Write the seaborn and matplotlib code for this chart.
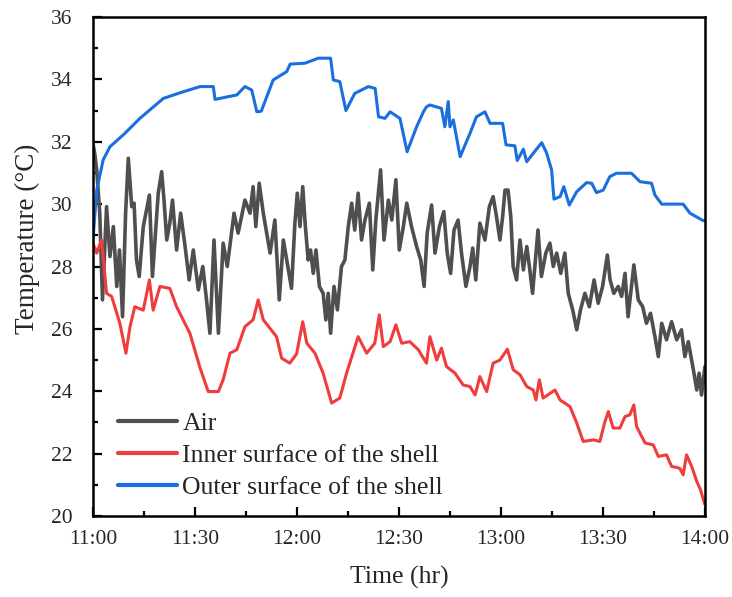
import matplotlib
matplotlib.use("Agg")
import matplotlib.pyplot as plt
from matplotlib.ticker import MultipleLocator, FixedLocator
import seaborn as sns

# Minutes after 11:00 and temperature (°C) for each sensor
air_t = [0, 0.5, 1.1, 2, 2.8, 4, 5, 6, 7, 7.8, 8.7, 9.6, 10.4, 11.4, 12.1, 12.8, 13.6,
         14.8, 16.6, 17.5, 18.5, 19.2, 20.2, 20.9, 21.7, 22.6, 23.4, 24.6, 25.8, 27.1,
         28.3, 29.5, 31, 32.3, 33.4, 34.4, 35.6, 36.9, 38.3, 39.5, 41.5, 42.7, 44.7,
         46.2, 47.1, 47.9, 48.9, 50.1, 52.1, 53.5, 54.8, 56, 57, 58.4, 59.4, 60.1,
         60.9, 61.7, 62.4, 63.3, 64, 64.8, 65.6, 66.6, 67.7, 68.5, 69.2, 69.9, 70.9,
         71.9, 73.1, 74.1, 75.1, 76.1, 77, 78, 79, 80, 81.3, 82.3, 83.2, 84.6, 85.6,
         86.9, 87.9, 89.1, 90.1, 91.3, 92.3, 93.7, 95.2, 96.4, 97.4, 98.3, 99.6,
         100.6, 101.9, 103.2, 104.2, 105.2, 106.2, 107.4, 108.4, 109.7, 110.9, 111.7,
         112.6, 113.8, 115.3, 116.6, 117.7, 118.7, 119.7, 120.5, 121.2, 122.1, 122.9,
         123.6, 124.6, 125.6, 126.6, 127.6, 128.5, 129.3, 130.3, 130.9, 131.9, 133.2,
         134.4, 135.4, 136.4, 137.6, 138.8, 139.8, 141.1, 142.3, 143.4, 144.7, 146,
         147.4, 148.6, 149.9, 151.3, 152.1, 153.2, 154.5, 155.5, 156.5, 157.4, 159.1,
         160.4, 161.7, 162.8, 164, 165.3, 166.3, 167.3, 168.7, 170.2, 171.7, 173.1,
         174.1, 175.1, 176.6, 177.6, 178.3, 179, 180]
air_v = [31.95, 31.63, 31.1, 29.71, 26.93, 29.92, 28.32, 29.28, 27.36, 28.53, 26.39,
         29.71, 31.47, 29.92, 30.03, 28.21, 27.68, 29.28, 30.29, 27.68, 29.28, 30.35,
         31.04, 30.13, 28.85, 29.39, 30.13, 28.53, 29.71, 28.64, 27.57, 28.53, 27.25,
         28.0, 26.93, 25.86, 28.85, 25.86, 28.75, 28.0, 29.71, 29.07, 30.13, 29.71,
         30.56, 29.28, 30.67, 29.71, 28.43, 29.49, 26.93, 28.85, 28.21, 27.3, 29.4,
         30.35, 29.28, 30.56, 29.39, 28.21, 28.53, 27.78, 28.53, 27.36, 27.14, 26.29,
         27.14, 25.86, 27.36, 26.61, 28.0, 28.21, 29.28, 30.03, 29.17, 30.35, 28.85,
         29.49, 30.03, 27.89, 29.49, 31.1, 28.85, 30.13, 29.49, 30.78, 28.53, 29.28,
         30.03, 29.28, 28.64, 28.21, 27.36, 29.07, 29.97, 28.43, 29.28, 29.76, 28.43,
         27.78, 29.17, 29.49, 28.43, 27.36, 28.0, 28.59, 27.57, 29.39, 28.85, 29.92,
         30.24, 29.6, 28.85, 29.6, 30.45, 30.45, 29.6, 28.0, 27.57, 28.85, 27.89,
         28.64, 27.89, 27.14, 28.43, 29.17, 27.68, 28.43, 28.75, 28.0, 28.43, 27.78,
         28.43, 27.14, 26.61, 25.97, 26.61, 27.14, 26.71, 27.57, 26.82, 27.36, 28.37,
         27.57, 27.14, 27.36, 27.04, 27.78, 26.39, 28.05, 26.93, 26.71, 26.18, 26.5,
         25.75, 25.11, 26.18, 25.65, 26.23, 25.65, 25.97, 25.11, 25.59, 24.69, 24.04,
         24.58, 23.88, 24.79]

inner_t = [0, 1.1, 2.5, 4, 5.5, 7.9, 9.7, 10.9, 12.3, 14.8, 16.6, 17.7, 19.7, 22.6,
           24.6, 28.5, 31.5, 33.9, 36.9, 38.3, 40.3, 42.3, 44.7, 47.1, 48.6, 50.1, 54,
           55.5, 57.9, 59.9, 61.7, 62.9, 65.3, 67.7, 70.2, 72.6, 74.6, 78, 80.5, 82.9,
           84.2, 85.4, 87.4, 89.1, 90.8, 93.2, 95.7, 98.1, 99.1, 101.1, 102.5, 104,
           106.5, 108.9, 110.9, 112.4, 113.8, 115.8, 117.7, 119.7, 121.9, 123.6, 125.6,
           127.6, 129.5, 130.3, 131.3, 132.4, 135.9, 137.4, 140.3, 142.3, 144.2, 147.2,
           149.1, 150.6, 151.6, 153, 155, 156.5, 157.9, 159.1, 159.9, 162.4, 164.8,
           166.3, 168.7, 170.2, 172.6, 173.6, 174.6, 176.1, 177.6, 178.7, 180]
inner_v = [28.75, 28.43, 28.85, 27.14, 27.04, 26.18, 25.22, 26.07, 26.71, 26.6, 27.57,
           26.6, 27.36, 27.3, 26.71, 25.86, 24.75, 23.99, 23.99, 24.37, 25.22, 25.33,
           26.07, 26.29, 26.93, 26.29, 25.75, 25.06, 24.9, 25.2, 26.23, 25.54, 25.22,
           24.58, 23.62, 23.78, 24.58, 25.75, 25.22, 25.54, 26.45, 25.43, 25.59, 26.13,
           25.54, 25.59, 25.33, 24.9, 25.75, 25.0, 25.38, 24.79, 24.58, 24.2, 24.15,
           23.88, 24.47, 23.99, 24.9, 25.0, 25.35, 24.69, 24.53, 24.15, 24.04, 23.72,
           24.37, 23.78, 24.04, 23.72, 23.51, 22.98, 22.39, 22.44, 22.39, 23.03, 23.35,
           22.82, 22.82, 23.19, 23.24, 23.56, 22.87, 22.34, 22.28, 21.91, 21.96, 21.59,
           21.53, 21.32, 21.96, 21.59, 21.11, 20.84, 20.36]

outer_t = [0, 1.1, 3, 5, 8.9, 13.8, 20.7, 25.6, 31.5, 35.4, 35.9, 42.3, 44.7, 46.7,
           48.2, 49.5, 53, 57, 58, 62.4, 66.3, 69.9, 70.7, 72.6, 74.4, 77, 81, 83, 84,
           85.9, 87.4, 90.3, 92.4, 95.2, 97.2, 98.1, 99.1, 102.5, 103.5, 104.5, 105,
           106, 108, 110.9, 112.8, 115.3, 116.8, 120.5, 121.5, 124.1, 124.8, 126.6,
           127.6, 129.5, 132, 133.4, 134.9, 135.6, 137.4, 138.5, 140.1, 142.3, 145.2,
           146.7, 148.1, 150.1, 152, 154, 158.4, 160.9, 164.3, 165.3, 167.3, 173.6,
           175.6, 179.5, 180]
outer_v = [28.85, 30.45, 31.42, 31.84, 32.22, 32.75, 33.39, 33.57, 33.77, 33.77, 33.36,
           33.5, 33.77, 33.66, 32.96, 32.98, 33.98, 34.25, 34.49, 34.52, 34.68, 34.68,
           33.98, 33.93, 33.0, 33.55, 33.77, 33.71, 32.8, 32.75, 32.96, 32.75, 31.68,
           32.48, 32.96, 33.12, 33.18, 33.07, 32.48, 33.29, 32.48, 32.7, 31.52, 32.27,
           32.8, 32.96, 32.59, 32.59, 31.9, 31.87, 31.4, 31.76, 31.36, 31.63, 31.97,
           31.65, 31.1, 30.16, 30.24, 30.56, 29.97, 30.4, 30.69, 30.67, 30.37, 30.45,
           30.88, 30.99, 30.99, 30.72, 30.67, 30.29, 30.0, 30.0, 29.71, 29.47, 29.47]

time_ticks = [0, 30, 60, 90, 120, 150, 180]
time_labels = ["11:00", "11:30", "12:00", "12:30", "13:00", "13:30", "14:00"]

sns.set_theme(style="ticks")
plt.rcParams["font.family"] = ["Liberation Serif", "DejaVu Serif"]

fig = plt.figure(figsize=(7.32, 5.97), dpi=100)
ax = fig.add_axes([0.127, 0.1357, 0.836, 0.8358])

sns.lineplot(x=air_t, y=air_v, ax=ax, color="#4F4F4F", linewidth=2.6,
             sort=False, estimator=None, label="Air")
sns.lineplot(x=inner_t, y=inner_v, ax=ax, color="#F03C3C", linewidth=2.2,
             sort=False, estimator=None, label="Inner surface of the shell")
sns.lineplot(x=outer_t, y=outer_v, ax=ax, color="#1A6FDF", linewidth=2.2,
             sort=False, estimator=None, label="Outer surface of the shell")

ax.set_xlim(0, 180)
ax.set_ylim(20, 36)
ax.xaxis.set_major_locator(FixedLocator(time_ticks))
ax.set_xticklabels(time_labels)
ax.xaxis.set_minor_locator(MultipleLocator(15))
ax.yaxis.set_major_locator(MultipleLocator(2))
ax.yaxis.set_minor_locator(MultipleLocator(1))

for side in ["left", "right", "top", "bottom"]:
    ax.spines[side].set_visible(True)
    ax.spines[side].set_linewidth(1.8)
    ax.spines[side].set_color("black")

ax.tick_params(which="both", direction="in", top=False, right=False,
               color="black", width=1.6)
ax.tick_params(which="major", length=6.5, labelsize=15.5)
ax.tick_params(which="minor", length=3.6)
ax.tick_params(axis="x", which="major", pad=10)
ax.tick_params(axis="y", which="major", pad=15)

ax.set_xlabel("Time (hr)", fontsize=18.5, labelpad=12)
ax.set_ylabel("Temperature (°C)", fontsize=19.5)
ax.yaxis.set_label_coords(-0.087, 0.555)

leg = ax.legend(loc="lower left", frameon=False, fontsize=18.5,
                handlelength=2.3, handletextpad=0.2, labelspacing=0.35,
                borderaxespad=0.25, bbox_to_anchor=(0.014, 0.0))
for line in leg.get_lines():
    line.set_linewidth(3)

fig.savefig("out.png", dpi=100)
